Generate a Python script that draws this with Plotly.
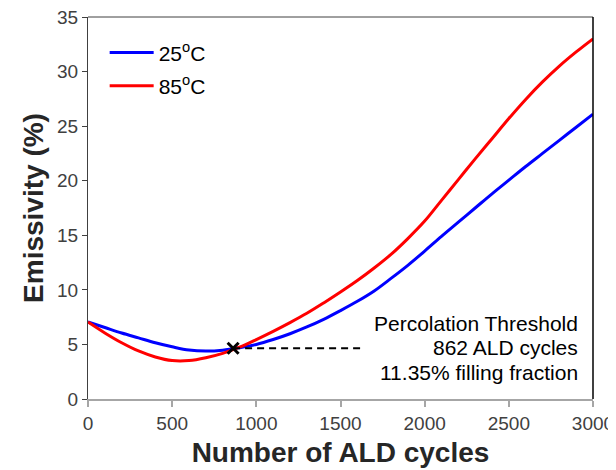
import plotly.graph_objects as go

# ---- data ----
cycles = [0, 100, 200, 300, 400, 500, 600, 700, 800, 900, 1000, 1100, 1200, 1300, 1400, 1500,
          1600, 1700, 1800, 1900, 2000, 2100, 2200, 2300, 2400, 2500, 2600, 2700, 2800, 2900, 3000]
emis_25 = [7.05, 6.55, 6.05, 5.6, 5.15, 4.78, 4.48, 4.39, 4.47, 4.7, 5.0, 5.45, 5.98, 6.6, 7.3, 8.1,
           8.95, 9.9, 11.05, 12.25, 13.55, 14.9, 16.2, 17.5, 18.8, 20.05, 21.3, 22.5, 23.7, 24.9, 26.1]
emis_85 = [7.05, 6.05, 5.15, 4.4, 3.85, 3.52, 3.52, 3.78, 4.18, 4.75, 5.45, 6.2, 7.0, 7.85, 8.8, 9.8,
           10.85, 12.0, 13.25, 14.7, 16.3, 18.2, 20.1, 22.0, 23.85, 25.7, 27.45, 29.05, 30.5, 31.8, 33.0]

threshold_x = [862]
threshold_y = [4.65]
dash_x = [862, 1640]
dash_y = [4.65, 4.65]

note_lines = ["Percolation Threshold", "862 ALD cycles", "11.35% filling fraction"]
note_y = [6.92, 4.75, 2.45]

x_ticks = [0, 500, 1000, 1500, 2000, 2500, 3000]
y_ticks = [0, 5, 10, 15, 20, 25, 30, 35]

FONT = "Arial, 'Liberation Sans', sans-serif"

fig = go.Figure()
fig.add_trace(go.Scatter(x=cycles, y=emis_25, mode="lines", name="25<sup>o</sup>C", legendgroup="g25",
                         line=dict(color="#0000FF", width=3, shape="spline", smoothing=1)))
fig.add_trace(go.Scatter(x=cycles, y=emis_85, mode="lines", name="85<sup>o</sup>C", legendgroup="g85",
                         line=dict(color="#FF0000", width=3, shape="spline", smoothing=1)))
fig.add_trace(go.Scatter(x=dash_x, y=dash_y, mode="lines", showlegend=False,
                         line=dict(color="black", width=2, dash="7px,5px")))
fig.add_trace(go.Scatter(x=threshold_x, y=threshold_y, mode="markers", showlegend=False,
                         marker=dict(symbol="x-thin", size=11, line=dict(color="black", width=3))))

for txt, yy in zip(note_lines, note_y):
    fig.add_annotation(x=2925, y=yy, xref="x", yref="y", xanchor="right", yanchor="middle",
                       align="right", showarrow=False, text=txt,
                       font=dict(family=FONT, size=21, color="black"))

# top and right frame lines
fig.add_shape(type="line", xref="paper", yref="paper", x0=0, x1=1, y0=1, y1=1,
              line=dict(color="#404040", width=1))
fig.add_shape(type="line", xref="paper", yref="paper", x0=1, x1=1, y0=0, y1=1,
              line=dict(color="black", width=1.5))

fig.update_layout(
    width=608, height=462,
    margin=dict(l=80, r=23, t=9, b=71, autoexpand=False),
    paper_bgcolor="white", plot_bgcolor="white",
    font=dict(family=FONT, color="#404040"),
    showlegend=True,
    legend=dict(x=0.033, y=0.96, xanchor="left", yanchor="top", bgcolor="rgba(0,0,0,0)",
                font=dict(family=FONT, size=21, color="black"), tracegroupgap=3,
                itemwidth=44),
    xaxis=dict(range=[0, 3000], tickvals=x_ticks, ticks="outside", ticklen=6,
               tickcolor="#A6A6A6", tickwidth=2, showline=True, linecolor="#A6A6A6",
               linewidth=2, showgrid=False, zeroline=False, automargin=False,
               ticklabeloverflow="allow",
               tickfont=dict(family=FONT, size=19, color="#404040"),
               title=dict(text="<b>Number of ALD cycles</b>", standoff=10,
                          font=dict(family=FONT, size=28, color="#262626"))),
    yaxis=dict(range=[0, 35], tickvals=y_ticks, ticks="outside", ticklen=5,
               tickcolor="#404040", showline=True, linecolor="#404040", linewidth=1,
               showgrid=False, zeroline=False, automargin=False,
               ticklabeloverflow="allow",
               tickfont=dict(family=FONT, size=19, color="#404040"),
               title=dict(text="<b>Emissivity (%)</b>", standoff=5,
                          font=dict(family=FONT, size=28, color="#262626"))),
)

fig.write_html("out.html")
